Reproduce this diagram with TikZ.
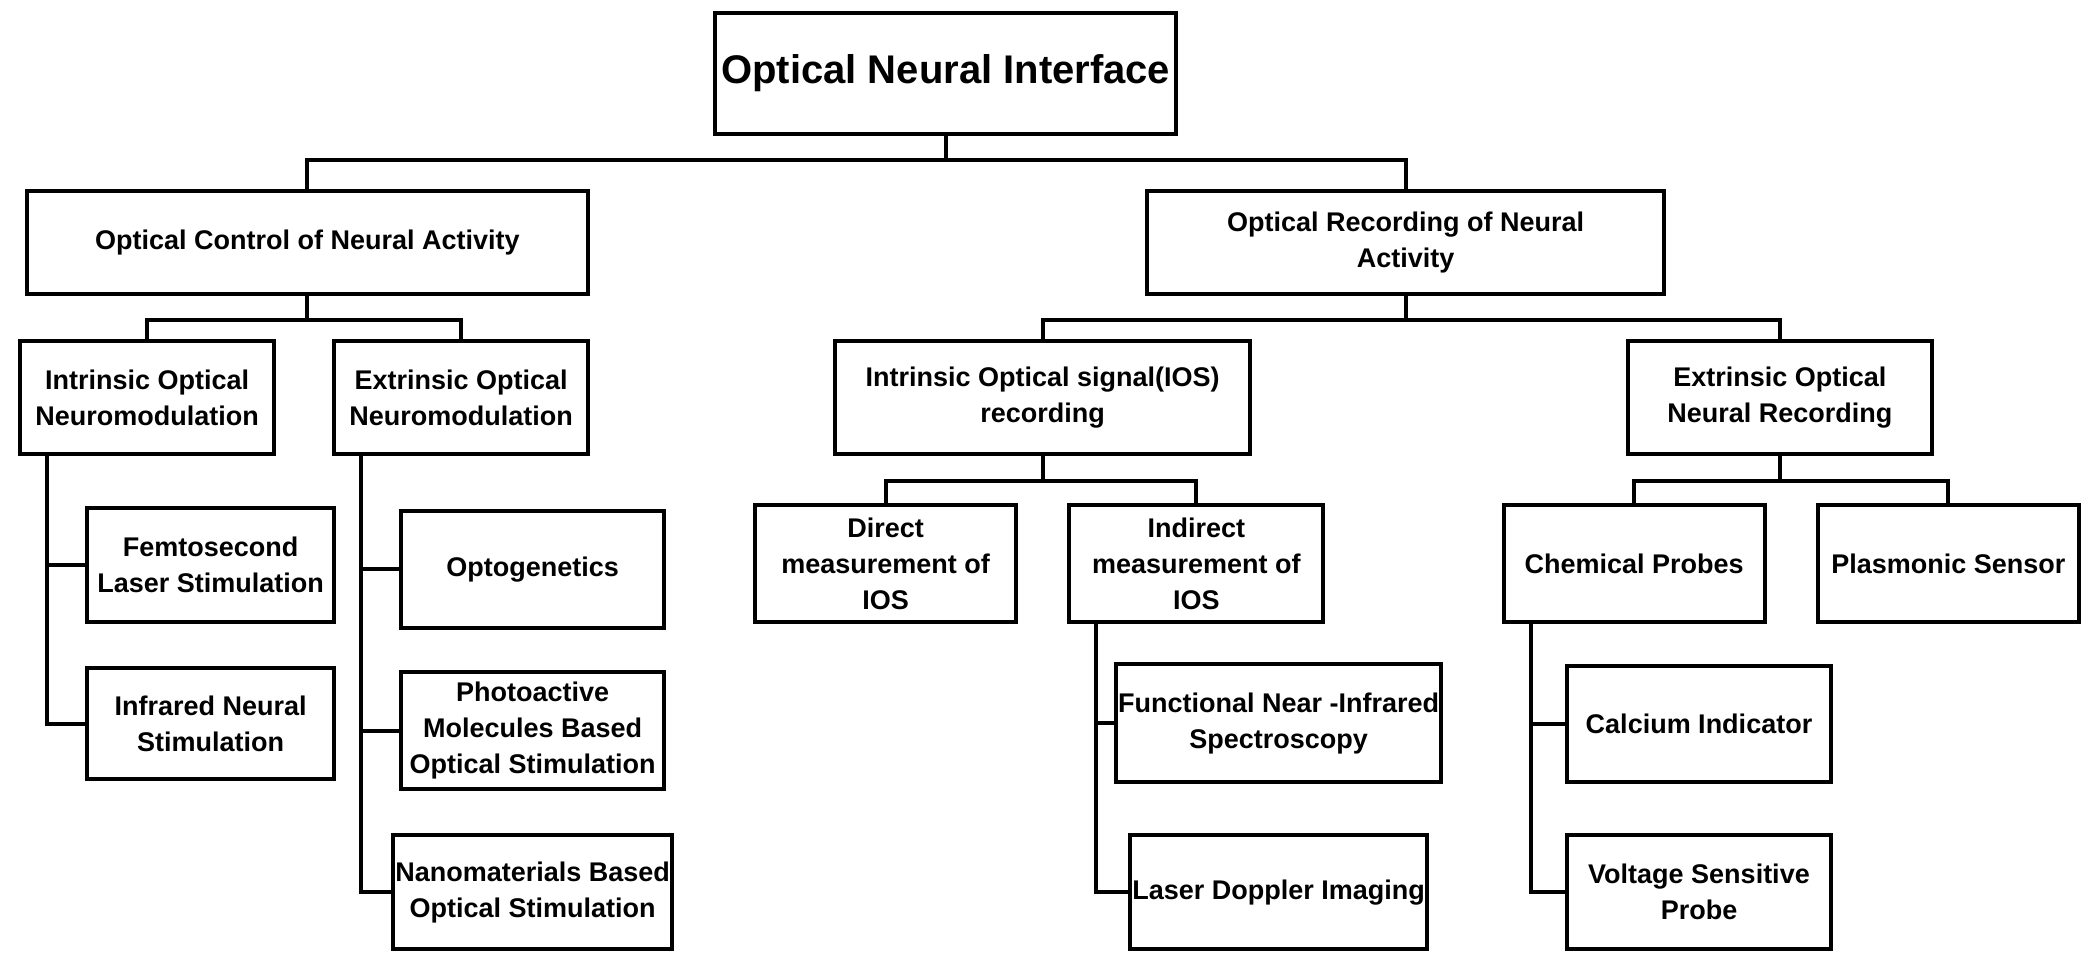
\documentclass[tikz,border=0pt]{standalone}
\usepackage{fontspec}
\setmainfont{Liberation Sans}
\begin{document}
\begin{tikzpicture}[x=0.6684pt,y=-0.6684pt,
  box/.style={draw,line width=2pt,align=center,inner sep=1pt,font=\fontsize{13.5}{18}\selectfont\bfseries},
  ln/.style={line width=2pt}]
\useasboundingbox (0,0) rectangle (1568,727);
\newcommand\bx[7][]{\node[box,#1,minimum width={(#5-#3)*0.6684pt},minimum height={(#6-#4)*0.6684pt}] (#2) at ({(#3+#5)/2},{(#4+#6)/2}) {#7};}
\bx[font=\fontsize{20}{24}\selectfont\bfseries]{root}{535}{10}{880}{100}{Optical Neural Interface}
\bx{oc}{20}{143}{440}{220}{Optical Control of Neural Activity}
\bx{or}{858}{143}{1245}{220}{Optical Recording of Neural\\Activity}
\bx{iom}{15}{255}{205}{340}{Intrinsic Optical\\Neuromodulation}
\bx{eom}{250}{255}{440}{340}{Extrinsic Optical\\Neuromodulation}
\bx{fem}{65}{380}{250}{465}{Femtosecond\\Laser Stimulation}
\bx{irs}{65}{500}{250}{583}{Infrared Neural\\Stimulation}
\bx{opto}{300}{382}{497}{470}{Optogenetics}
\bx{photo}{300}{503}{497}{590}{Photoactive\\Molecules Based\\Optical Stimulation}
\bx{nano}{300}{625}{497}{710}{Nanomaterials Based\\Optical Stimulation}
\bx{ios}{625}{255}{935}{340}{Intrinsic Optical signal(IOS)\\recording}
\bx{eonr}{1218}{255}{1445}{340}{Extrinsic Optical\\Neural Recording}
\bx{dir}{565}{378}{760}{465}{Direct\\measurement of\\IOS}
\bx{ind}{800}{378}{990}{465}{Indirect\\measurement of\\IOS}
\bx{fnir}{848}{497}{1065}{585}{Functional Near -Infrared\\Spectroscopy}
\bx{ldi}{848}{625}{1065}{710}{Laser Doppler Imaging}
\bx{chem}{1125}{378}{1320}{465}{Chemical Probes}
\bx{plas}{1360}{378}{1555}{465}{Plasmonic Sensor}
\bx{cal}{1172}{498}{1370}{585}{Calcium Indicator}
\bx{vsp}{1172}{625}{1370}{710}{Voltage Sensitive\\Probe}
\draw[ln] (root.south) -- ++(0,18) coordinate (j0);
\draw[ln] (j0) -| (oc.north); \draw[ln] (j0) -| (or.north);
\draw[ln] (oc.south) -- ++(0,18) coordinate (j1);
\draw[ln] (j1) -| (iom.north); \draw[ln] (j1) -| (eom.north);
\draw[ln] (or.south) -- ++(0,18) coordinate (j2);
\draw[ln] (j2) -| (ios.north); \draw[ln] (j2) -| (eonr.north);
\draw[ln] (ios.south) -- ++(0,18) coordinate (j3);
\draw[ln] (j3) -| (dir.north); \draw[ln] (j3) -| (ind.north);
\draw[ln] (eonr.south) -- ++(0,18) coordinate (j4);
\draw[ln] (j4) -| (chem.north); \draw[ln] (j4) -| (plas.north);
\coordinate (s1) at (35,340);
\draw[ln] (s1) |- (fem.west); \draw[ln] (s1) |- (irs.west);
\coordinate (s2) at (270,340);
\draw[ln] (s2) |- (opto.west); \draw[ln] (s2) |- (photo.west); \draw[ln] (s2) |- (nano.west);
\coordinate (s3) at (820,465);
\draw[ln] (s3) |- (fnir.west); \draw[ln] (s3) |- (ldi.west);
\coordinate (s4) at (1145,465);
\draw[ln] (s4) |- (cal.west); \draw[ln] (s4) |- (vsp.west);
\end{tikzpicture}
\end{document}
